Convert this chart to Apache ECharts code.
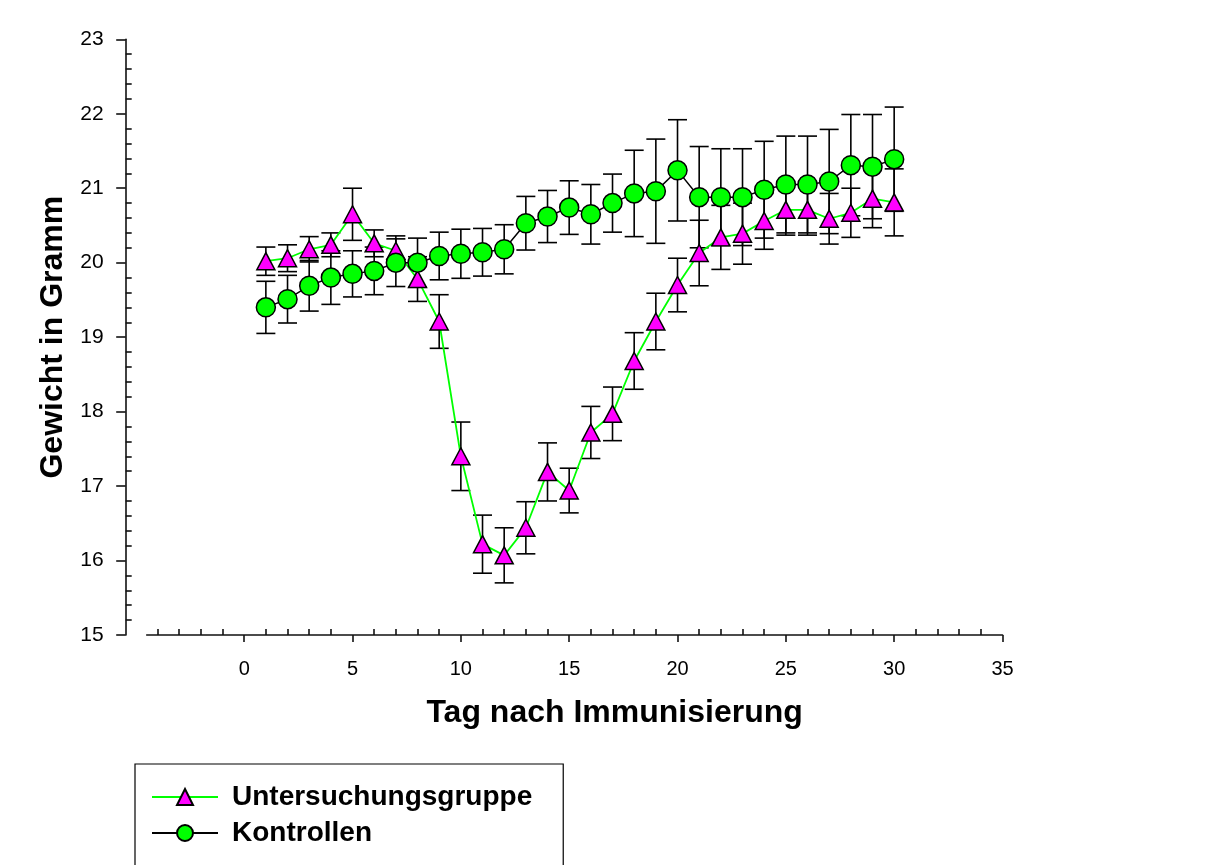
<!DOCTYPE html>
<html>
<head>
<meta charset="utf-8">
<script src="https://cdn.jsdelivr.net/npm/echarts@6/dist/echarts.min.js"></script>
<style>
html,body{margin:0;padding:0;background:#fff;}
#chart{width:1209px;height:865px;}
</style>
</head>
<body>
<div id="chart"></div>
<script>
// ---- data ----
const days = [1,2,3,4,5,6,7,8,9,10,11,12,13,14,15,16,17,18,19,20,21,22,23,24,25,26,27,28,29,30];
const untersMean = [20.02,20.06,20.18,20.24,20.65,20.26,20.16,19.78,19.21,17.40,16.22,16.07,16.44,17.19,16.94,17.72,17.97,18.68,19.21,19.70,20.13,20.34,20.39,20.56,20.71,20.71,20.59,20.67,20.86,20.81];
const untersErr  = [0.19,0.18,0.17,0.16,0.35,0.18,0.20,0.30,0.36,0.46,0.39,0.37,0.35,0.39,0.30,0.35,0.36,0.38,0.38,0.36,0.44,0.43,0.41,0.38,0.34,0.34,0.34,0.33,0.39,0.45];
const kontrMean  = [19.40,19.51,19.69,19.80,19.85,19.89,20.00,20.00,20.09,20.12,20.14,20.18,20.53,20.62,20.74,20.65,20.80,20.93,20.96,21.24,20.88,20.88,20.88,20.98,21.05,21.05,21.09,21.31,21.29,21.39];
const kontrErr   = [0.35,0.32,0.34,0.36,0.31,0.32,0.32,0.33,0.32,0.33,0.32,0.33,0.36,0.35,0.36,0.40,0.39,0.58,0.70,0.68,0.68,0.65,0.65,0.65,0.65,0.65,0.70,0.68,0.70,0.70];
const xMajorTicks = [0,5,10,15,20,25,30,35];
const xMinorTicks = [-4,-3,-2,-1,1,2,3,4,6,7,8,9,11,12,13,14,16,17,18,19,21,22,23,24,26,27,28,29,31,32,33,34];
const yMinorTicks = [];
for (let v = 15; v < 23; v++) { for (let k = 1; k < 5; k++) yMinorTicks.push(+(v + k * 0.2).toFixed(1)); }

const nameU = 'Untersuchungsgruppe';
const nameK = 'Kontrollen';
const FONT = "'Liberation Sans', Arial, sans-serif";

const untersLine = days.map((d, i) => [d, untersMean[i]]);
const kontrLine = days.map((d, i) => [d, kontrMean[i]]);
const untersBars = days.map((d, i) => [d, untersMean[i] - untersErr[i], untersMean[i] + untersErr[i]]);
const kontrBars = days.map((d, i) => [d, kontrMean[i] - kontrErr[i], kontrMean[i] + kontrErr[i]]);

function errorBar(params, api) {
  const x = api.value(0), lo = api.value(1), hi = api.value(2);
  const t = api.coord([x, hi]);
  const b = api.coord([x, lo]);
  const hw = 9.5;
  const st = { stroke: '#000', lineWidth: 1.6 };
  return {
    type: 'group',
    children: [
      { type: 'line', shape: { x1: t[0], y1: t[1], x2: b[0], y2: b[1] }, style: st },
      { type: 'line', shape: { x1: t[0] - hw, y1: t[1], x2: t[0] + hw, y2: t[1] }, style: st },
      { type: 'line', shape: { x1: b[0] - hw, y1: b[1], x2: b[0] + hw, y2: b[1] }, style: st }
    ]
  };
}

const chart = echarts.init(document.getElementById('chart'), null, { renderer: 'canvas' });
const axisLineStyle = { color: '#111', width: 1.6 };

chart.setOption({
  animation: false,
  backgroundColor: '#fff',
  textStyle: { fontFamily: FONT },
  grid: { left: 146.7, right: 206.5, top: 39.3, bottom: 230, containLabel: false, outerBoundsMode: 'none' },
  legend: {
    data: [nameU, nameK],
    orient: 'vertical',
    left: 135, top: 764, height: 200,
    padding: [19, 31, 60, 16],
    itemWidth: 66, itemHeight: 20, itemGap: 8,
    borderColor: '#000', borderWidth: 1.2,
    selectedMode: false,
    textStyle: { fontSize: 28, fontWeight: 'bold', color: '#000', fontFamily: FONT, padding: [0, 0, 0, 9] }
  },
  xAxis: [
    {
      type: 'value', position: 'bottom', min: -4.5, max: 35,
      name: 'Tag nach Immunisierung', nameLocation: 'middle', nameGap: 62,
      nameTextStyle: { fontSize: 32, fontWeight: 'bold', color: '#000', fontFamily: FONT, padding: [0, 0, 0, 80] },
      axisLine: { show: true, onZero: false, lineStyle: axisLineStyle },
      axisTick: { show: true, inside: false, length: 7, lineStyle: axisLineStyle, customValues: xMajorTicks },
      axisLabel: { show: true, fontSize: 20, color: '#000', margin: 24, fontFamily: FONT, customValues: xMajorTicks },
      splitLine: { show: false }
    },
    {
      type: 'value', position: 'bottom', min: -4.5, max: 35,
      axisLine: { show: false, onZero: false },
      axisTick: { show: true, inside: true, length: 6, lineStyle: axisLineStyle, customValues: xMinorTicks },
      axisLabel: { show: false },
      splitLine: { show: false }
    }
  ],
  yAxis: [
    {
      type: 'value', position: 'left', offset: 21, min: 15, max: 23, interval: 1,
      name: 'Gewicht in Gramm', nameLocation: 'middle', nameGap: 52,
      nameTextStyle: { fontSize: 32, fontWeight: 'bold', color: '#000', fontFamily: FONT },
      axisLine: { show: true, onZero: false, lineStyle: axisLineStyle },
      axisTick: { show: true, inside: false, length: 9.5, lineStyle: axisLineStyle },
      axisLabel: { show: true, fontSize: 21, color: '#000', margin: 22, fontFamily: FONT },
      splitLine: { show: false }
    },
    {
      type: 'value', position: 'left', offset: 21, min: 15, max: 23, interval: 0.2,
      axisLine: { show: false, onZero: false },
      axisTick: { show: true, inside: true, length: 6, lineStyle: axisLineStyle, customValues: yMinorTicks },
      axisLabel: { show: false },
      splitLine: { show: false }
    }
  ],
  series: [
    { type: 'custom', renderItem: errorBar, data: untersBars, xAxisIndex: 0, yAxisIndex: 0, z: 2, encode: { x: 0, y: [1, 2] }, silent: true },
    { type: 'custom', renderItem: errorBar, data: kontrBars, xAxisIndex: 0, yAxisIndex: 0, z: 2, encode: { x: 0, y: [1, 2] }, silent: true },
    {
      name: nameU, type: 'line', data: untersLine, xAxisIndex: 0, yAxisIndex: 0, z: 3,
      symbol: 'triangle', symbolSize: [18, 17],
      itemStyle: { color: '#ff00ff', borderColor: '#000', borderWidth: 1.5 },
      lineStyle: { color: '#00ff00', width: 1.8 }
    },
    {
      name: nameK, type: 'line', data: kontrLine, xAxisIndex: 0, yAxisIndex: 0, z: 4,
      symbol: 'circle', symbolSize: 19,
      itemStyle: { color: '#00ff00', borderColor: '#000', borderWidth: 1.5 },
      lineStyle: { color: '#000', width: 1.5 }
    }
  ]
});
</script>
</body>
</html>
